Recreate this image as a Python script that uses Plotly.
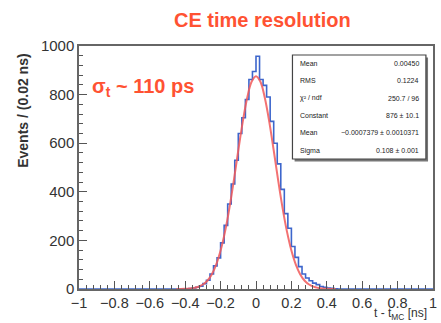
import numpy as np
import plotly.graph_objects as go

# ---------------- data ----------------
bin_width = 0.02
x_lo, x_hi = -1.0, 1.0
# non-empty histogram bin centres and contents
hist_centers = [-0.41, -0.39, -0.37, -0.35, -0.33, -0.31, -0.29, -0.27, -0.25, -0.23,
                -0.21, -0.19, -0.17, -0.15, -0.13, -0.11, -0.09, -0.07, -0.05, -0.03,
                -0.01, 0.01, 0.03, 0.05, 0.07, 0.09, 0.11, 0.13, 0.15, 0.17,
                0.19, 0.21, 0.23, 0.25, 0.27, 0.29, 0.31, 0.33, 0.35, 0.37,
                0.39, 0.41, 0.43, 0.45]
hist_counts = [0, 1, 2, 4, 7, 12, 22, 36, 62, 95,
               128, 190, 262, 350, 432, 530, 640, 705, 780, 862,
               895, 958, 862, 838, 790, 690, 600, 515, 410, 310,
               250, 175, 130, 92, 62, 45, 34, 24, 18, 10,
               7, 4, 3, 1]

# Gaussian fit curve
fit_x = [-0.45, -0.425, -0.4, -0.375, -0.35, -0.325, -0.3, -0.275, -0.25, -0.225,
         -0.2, -0.175, -0.15, -0.125, -0.1, -0.075, -0.05, -0.025, 0.0, 0.025,
         0.05, 0.075, 0.1, 0.125, 0.15, 0.175, 0.2, 0.225, 0.25, 0.275,
         0.3, 0.325, 0.35, 0.375, 0.4, 0.425, 0.45]
fit_y = [0, 0.3, 0.9, 2.1, 4.6, 9.5, 18.5, 34, 60, 100,
         158, 236, 334, 448, 571, 688, 786, 853, 876, 853,
         786, 688, 571, 448, 334, 236, 158, 100, 60, 34,
         18.5, 9.5, 4.6, 2.1, 0.9, 0.3, 0]

stats_labels = ["Mean", "RMS", "\u03c7\u00b2 / ndf", "Constant", "Mean", "Sigma"]
stats_values = ["0.00450", "0.1224", "250.7 / 96", "876 \u00b1 10.1",
                "\u22120.0007379 \u00b1 0.0010371", "0.108 \u00b1 0.001"]

title_text = "CE time resolution"
sigma_text = "\u03c3<sub>t</sub> ~ 110 ps"
x_title = "t - t<sub>MC</sub> [ns]"
y_title = "Events / (0.02 ns)"

# full 100-bin histogram (bins outside the listed range are empty)
all_centers = np.round(np.arange(x_lo + bin_width / 2, x_hi, bin_width), 4)
lookup = dict(zip(np.round(hist_centers, 4), hist_counts))
all_counts = [lookup.get(c, 0) for c in all_centers]
edges = list(np.round(np.arange(x_lo, x_hi + 1e-9, bin_width), 4))
step_y = all_counts + [all_counts[-1]]

ORANGE = "#ff5232"
TXT = "#333333"

fig = go.Figure()
fig.add_trace(go.Scatter(x=edges, y=step_y, mode="lines", line_shape="hv",
                         line=dict(color="#3d66cc", width=1.6), hoverinfo="skip"))
fig.add_trace(go.Scatter(x=fit_x, y=fit_y, mode="lines", line_shape="spline",
                         line=dict(color="#f25a5a", width=2), opacity=0.85,
                         hoverinfo="skip"))

fig.update_layout(
    width=441, height=323,
    margin=dict(l=79, r=4, t=46, b=34),
    paper_bgcolor="white", plot_bgcolor="white",
    showlegend=False,
    font=dict(family="Liberation Sans, Arial, sans-serif", color=TXT),
)
fig.update_xaxes(range=[x_lo, x_hi], tickmode="array",
                 tickvals=[-1, -0.8, -0.6, -0.4, -0.2, 0, 0.2, 0.4, 0.6, 0.8, 1],
                 ticktext=["\u22121", "\u22120.8", "\u22120.6", "\u22120.4", "\u22120.2",
                           "0", "0.2", "0.4", "0.6", "0.8", "1"],
                 ticks="inside", ticklen=8, tickcolor="#555", tickwidth=1.2,
                 minor=dict(dtick=0.04, tick0=-1, ticks="inside", ticklen=4,
                            tickcolor="#555", tickwidth=1.2),
                 showline=True, linecolor="#666", linewidth=1.5, mirror=True,
                 showgrid=False, zeroline=False, ticklabelstandoff=0,
                 tickfont=dict(size=14.5, color=TXT))
fig.update_yaxes(range=[0, 1000], tickmode="array",
                 tickvals=[0, 200, 400, 600, 800, 1000],
                 ticks="inside", ticklen=8, tickcolor="#555", tickwidth=1.2,
                 minor=dict(dtick=40, tick0=0, ticks="inside", ticklen=4,
                            tickcolor="#555", tickwidth=1.2),
                 showline=True, linecolor="#666", linewidth=1.5, mirror=True,
                 showgrid=False, zeroline=False,
                 tickfont=dict(size=15, color=TXT))

ann = []
ann.append(dict(text="<b>" + title_text + "</b>", x=0.518, y=1.107, xref="paper",
                yref="paper", showarrow=False, xanchor="center", yanchor="middle",
                font=dict(size=20, color=ORANGE)))
ann.append(dict(text="<b>" + sigma_text + "</b>", x=0.03, y=0.831, xref="paper",
                yref="paper", showarrow=False, xanchor="left", yanchor="middle",
                font=dict(size=20, color=ORANGE)))
ann.append(dict(text=x_title, x=0.985, y=-0.14, xref="paper", yref="paper",
                showarrow=False, xanchor="right", yanchor="bottom",
                borderpad=0, font=dict(size=12, color=TXT)))
ann.append(dict(text="<b>" + y_title + "</b>", x=-0.159, y=0.975, xref="paper",
                yref="paper", showarrow=False, xanchor="center", yanchor="top",
                textangle=-90, font=dict(size=14, color=TXT)))

# stats box
box_x0, box_x1, box_y0, box_y1 = 0.603, 0.98, 0.535, 0.963
fig.add_shape(type="rect", xref="paper", yref="paper", x0=box_x0 + 0.006, x1=box_x1 + 0.006,
              y0=box_y0 - 0.01, y1=box_y1 - 0.01, line=dict(width=0), fillcolor="#777")
fig.add_shape(type="rect", xref="paper", yref="paper", x0=box_x0, x1=box_x1,
              y0=box_y0, y1=box_y1, line=dict(color="#444", width=1.2), fillcolor="white")
row_y = [0.926, 0.856, 0.786, 0.712, 0.642, 0.568]
for lab, val, yy in zip(stats_labels, stats_values, row_y):
    ann.append(dict(text=lab, x=box_x0 + 0.015, y=yy, xref="paper", yref="paper",
                    showarrow=False, xanchor="left", yanchor="middle",
                    font=dict(size=7, color="#222")))
    ann.append(dict(text=val, x=box_x1 - 0.015, y=yy, xref="paper", yref="paper",
                    showarrow=False, xanchor="right", yanchor="middle",
                    font=dict(size=7, color="#222")))
fig.update_layout(annotations=ann)

fig.write_html("out.html")
